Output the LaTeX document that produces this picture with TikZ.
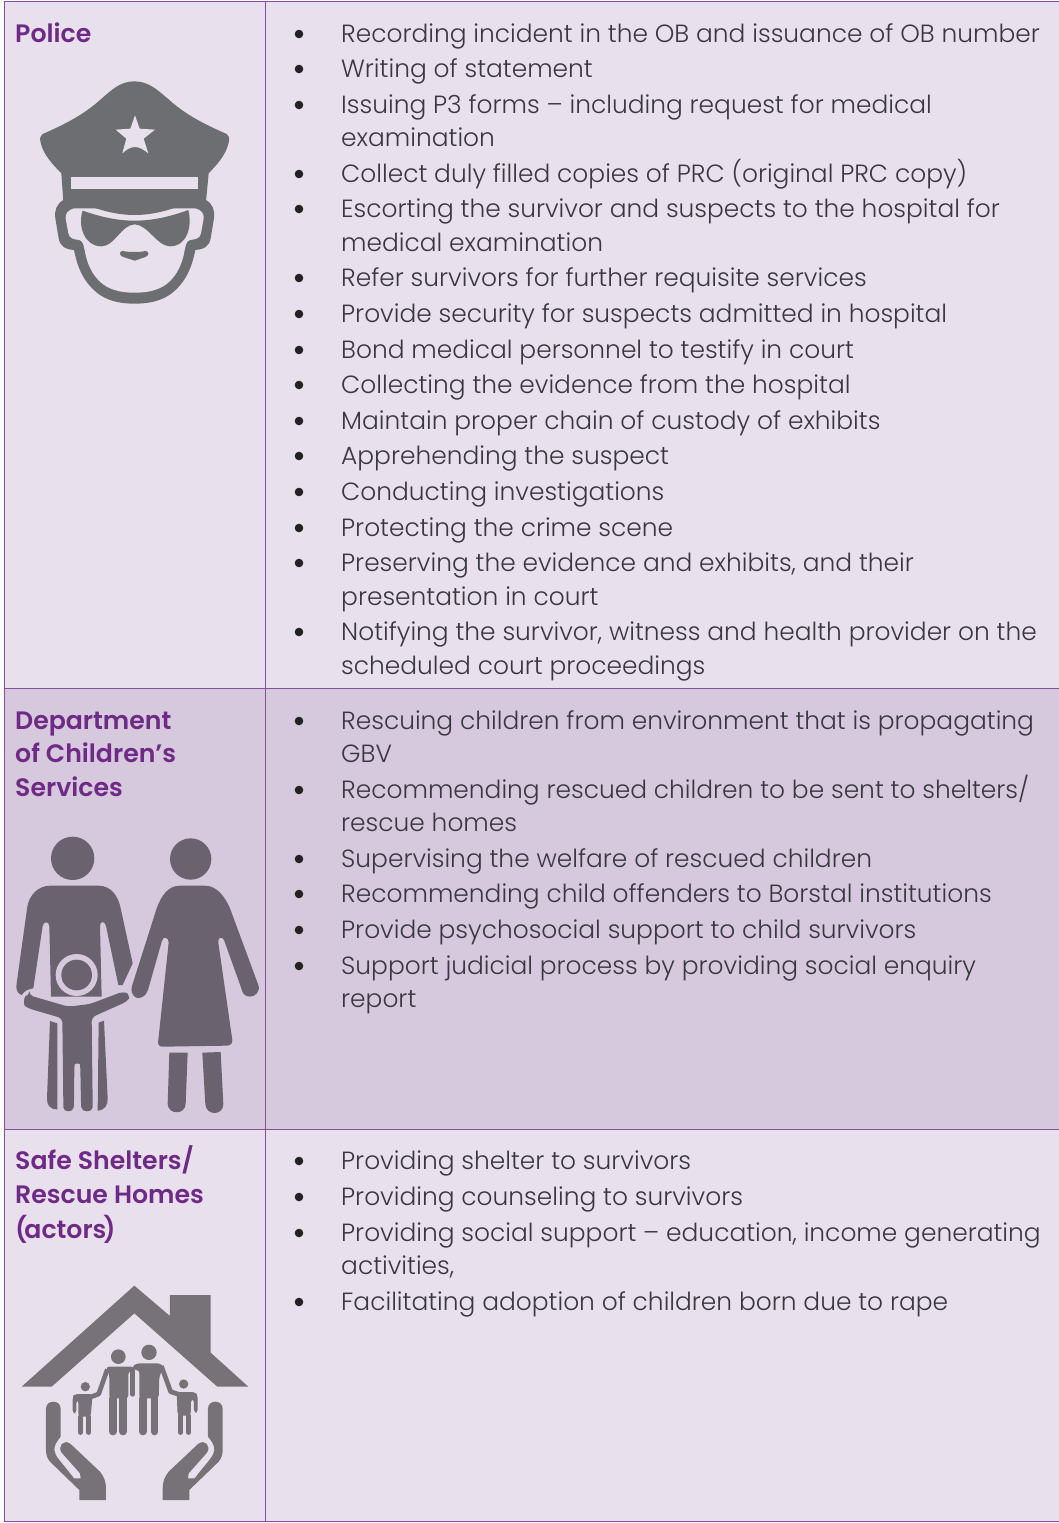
\documentclass[tikz,border=0pt]{standalone}
\usepackage{fontspec}
\setmainfont{Poppins Light}
\newfontfamily\ttlfont{Poppins SemiBold}
\definecolor{lightc}{HTML}{E8E1ED}
\definecolor{darkc}{HTML}{D6C9DE}
\definecolor{borderc}{HTML}{8A4C9E}
\definecolor{titlec}{HTML}{6F2A86}
\definecolor{textc}{HTML}{3A3740}
\definecolor{bulc}{HTML}{222222}
\definecolor{copc}{HTML}{6D6E71}
\definecolor{famc}{HTML}{6A626E}
\definecolor{homec}{HTML}{767277}
\tikzset{
 body/.style={anchor=base west,inner sep=0pt,text=textc,font=\fontsize{24.9}{30}\selectfont},
 ttl/.style={anchor=base west,inner sep=0pt,text=titlec,font=\ttlfont\fontsize{25.2}{30}\selectfont},
 rule/.style={draw=borderc,line width=1pt},
 icon/.style={x=0.33333pt,y=-0.33333pt},
}
\newcommand\bul[2]{\fill[bulc] (299,#1+1) circle (4.3); \node[body] (b#1) at (341,#1+9) {#2};}
\newcommand\cont[2]{\node[body] (b#1) at (341,#1+9) {#2};}
\newcommand\ttlline[2]{\node[ttl] (h#1) at (15,#1+9) {#2};}
\begin{document}
\begin{tikzpicture}[x=1pt,y=-1pt]
\useasboundingbox (0,0) rectangle (1059,1523);
\fill[white] (0,0) rectangle (1059,1523);
\fill[lightc] (4.5,1.5) rectangle (1059,688.5);
\fill[darkc] (4.5,688.5) rectangle (1059,1129.5);
\fill[lightc] (4.5,1129.5) rectangle (1059,1521.5);
\draw[rule] (1059,1.5) -- (4.5,1.5) -- (4.5,1521.5) -- (1059,1521.5);
\draw[rule] (265,1.5) -- (265,1521.5);
\draw[rule] (4.5,688.5) -- (1059,688.5);
\draw[rule] (4.5,1129.5) -- (1059,1129.5);

% titles
\ttlline{33}{Police}
\ttlline{720}{Department}
\ttlline{753}{of Children’s}
\ttlline{787}{Services}
\ttlline{1160}{Safe Shelters/}
\ttlline{1194}{Rescue Homes}
\ttlline{1229}{(\kern-3pt actors\kern-3pt)}

% police
\bul{33}{Recording incident in the OB and issuance of OB number}
\bul{68}{Writing of statement}
\bul{104}{Issuing P3 forms – including request for medical}
\cont{137}{examination}
\bul{173}{Collect duly filled copies of PRC (original PRC copy)}
\bul{208}{Escorting the survivor and suspects to the hospital for}
\cont{242}{medical examination}
\bul{277}{Refer survivors for further requisite services}
\bul{313}{Provide security for suspects admitted in hospital}
\bul{349}{Bond medical personnel to testify in court}
\bul{384}{Collecting the evidence from the hospital}
\bul{420}{Maintain proper chain of custody of exhibits}
\bul{455}{Apprehending the suspect}
\bul{491}{Conducting investigations}
\bul{527}{Protecting the crime scene}
\bul{562}{Preserving the evidence and exhibits, and their}
\cont{596}{presentation in court}
\bul{631}{Notifying the survivor, witness and health provider on the}
\cont{665}{scheduled court proceedings}
% children
\bul{720}{Rescuing children from environment that is propagating}
\cont{753}{GBV}
\bul{789}{Recommending rescued children to be sent to shelters/}
\cont{822}{rescue homes}
\bul{858}{Supervising the welfare of rescued children}
\bul{893}{Recommending child offenders to Borstal institutions}
\bul{929}{Provide psychosocial support to child survivors}
\bul{965}{Support judicial process by providing social enquiry}
\cont{998}{report}
% shelters
\bul{1160}{Providing shelter to survivors}
\bul{1196}{Providing counseling to survivors}
\bul{1232}{Providing social support – education, income generating}
\cont{1265}{activities,}
\bul{1301}{Facilitating adoption of children born due to rape}

% ---------- police icon
\begin{scope}[icon]
 % head outline
 \fill[copc] (190,600) .. controls (170,612) and (163,630) .. (166,655)
   -- (176,715) .. controls (180,738) and (195,748) .. (222,750)
   .. controls (232,800) and (250,850) .. (300,885)
   .. controls (335,908) and (375,911) .. (404,911)
   .. controls (433,911) and (473,908) .. (508,885)
   .. controls (558,850) and (576,800) .. (586,750)
   .. controls (613,748) and (628,738) .. (632,715)
   -- (642,655) .. controls (645,630) and (638,612) .. (618,600) -- cycle;
 \fill[lightc] (222,625) .. controls (205,630) and (195,640) .. (197,655)
   -- (205,700) .. controls (208,716) and (222,718) .. (238,720)
   .. controls (250,724) and (250,735) .. (254,750)
   .. controls (262,800) and (285,840) .. (320,860)
   .. controls (350,876) and (380,878) .. (404,878)
   .. controls (428,878) and (458,876) .. (488,860)
   .. controls (523,840) and (546,800) .. (554,750)
   .. controls (558,735) and (558,724) .. (570,720)
   .. controls (586,718) and (600,716) .. (603,700)
   -- (611,655) .. controls (613,640) and (603,630) .. (586,625) -- cycle;
 % hat
 \fill[copc] (403,244)
   .. controls (360,244) and (335,270) .. (300,300)
   .. controls (250,345) and (190,375) .. (128,402)
   .. controls (120,406) and (119,415) .. (122,428)
   .. controls (130,465) and (160,495) .. (184,520)
   -- (190,605) -- (225,600)
   .. controls (280,625) and (340,645) .. (404,645)
   .. controls (468,645) and (528,625) .. (582,600)
   -- (618,605) -- (626,520)
   .. controls (650,495) and (678,465) .. (686,428)
   .. controls (689,415) and (688,406) .. (680,402)
   .. controls (618,375) and (558,345) .. (508,300)
   .. controls (473,270) and (446,244) .. (403,244) -- cycle;
 \fill[lightc] (214,530) rectangle (594,566);
 \fill[lightc] (405,346) -- (419,386) -- (465,389) -- (431,416) -- (445,460)
   .. controls (430,448) and (418,441) .. (405,441)
   .. controls (392,441) and (380,448) .. (367,460)
   -- (379,416) -- (347,389) -- (391,386) -- cycle;
 % glasses
 \fill[copc] (248,632) .. controls (300,650) and (350,662) .. (404,662)
   .. controls (458,662) and (510,650) .. (565,630)
   .. controls (578,680) and (560,740) .. (510,739)
   .. controls (470,738) and (445,675) .. (404,673)
   .. controls (363,675) and (345,738) .. (305,739)
   .. controls (255,740) and (232,680) .. (248,632) -- cycle;
 % mouth
 \fill[copc] (368,753) .. controls (385,757) and (420,757) .. (436,753)
   .. controls (448,752) and (448,768) .. (436,771)
   -- (404,782) -- (370,771) .. controls (356,768) and (358,752) .. (368,753) -- cycle;
\end{scope}

% ---------- family icon
\begin{scope}[yshift=-820pt,icon]
 \fill[famc] (218,115) circle (65);
 \fill[famc] (572,117) circle (62);
 % man
 \fill[famc] (150,197) -- (295,197) .. controls (335,197) and (355,230) .. (362,265)
   -- (398,430) -- (368,495) -- (355,495) -- (318,318)
   .. controls (315,302) and (300,302) .. (300,318)
   -- (305,530) -- (153,530) -- (148,318)
   .. controls (147,302) and (130,304) .. (128,318)
   -- (100,505) .. controls (85,508) and (75,510) .. (65,525)
   .. controls (50,520) and (47,505) .. (50,490)
   -- (82,260) .. controls (88,225) and (115,197) .. (150,197) -- cycle;
 % man legs
 \fill[famc] (150,603) -- (172,610) -- (172,868)
   .. controls (150,868) and (140,855) .. (141,835) -- cycle;
 \fill[famc] (312,602) -- (296,608) -- (293,872)
   .. controls (315,870) and (324,855) .. (323,835) -- cycle;
 % child halo
 \fill[darkc] (230,465) circle (63);
 \draw[darkc,line width=6pt,line join=round] (90,545) -- (200,555) -- (270,555) -- (372,525);
 % child
 \fill[famc] (230,465) circle (46);
 \fill[famc,rounded corners=4pt] (88,526) -- (205,560) -- (270,552) -- (368,515)
   .. controls (385,520) and (388,535) .. (380,545)
   -- (275,592) -- (278,850) .. controls (278,878) and (245,878) .. (243,850)
   -- (241,745) .. controls (240,730) and (224,730) .. (223,745)
   -- (222,850) .. controls (220,878) and (190,878) .. (190,850)
   -- (187,595) -- (85,565) .. controls (70,555) and (72,530) .. (88,526) -- cycle;
 % woman
 \fill[famc] (540,197) -- (615,197) .. controls (650,197) and (675,230) .. (690,265)
   -- (775,495) .. controls (782,515) and (765,530) .. (750,530)
   .. controls (735,530) and (727,520) .. (724,505)
   -- (672,360) .. controls (665,347) and (653,352) .. (655,368)
   -- (697,660) .. controls (698,672) and (690,676) .. (680,677)
   -- (488,680) .. controls (476,680) and (472,672) .. (475,660)
   -- (506,368) .. controls (506,350) and (490,348) .. (486,362)
   -- (444,510) .. controls (438,530) and (420,537) .. (408,533)
   .. controls (395,525) and (392,510) .. (396,498)
   -- (470,265) .. controls (485,225) and (505,197) .. (540,197) -- cycle;
 \fill[famc] (508,698) -- (563,698) -- (557,852)
   .. controls (555,885) and (505,885) .. (503,852) -- cycle;
 \fill[famc] (607,698) -- (662,696) -- (670,852)
   .. controls (670,888) and (618,888) .. (616,852) -- cycle;
\end{scope}

% ---------- home icon
\begin{scope}[yshift=-1270pt,icon]
 \fill[homec] (65,350) -- (403,47) -- (510,138) -- (510,75) -- (632,75) -- (632,248)
   -- (745,350) -- (652,350) -- (403,130) -- (155,350) -- cycle;
 \fill[homec] (355,260) circle (22);
 \fill[homec] (447,247) circle (23);
 \fill[homec] (256,350) circle (14);
 \fill[homec] (551,342) circle (14);
 % left adult
 \fill[homec,rounded corners=3pt] (318,290) -- (402,290) -- (402,304) -- (385,304) -- (385,385) -- (328,385) -- (328,315) -- cycle;
 \draw[homec,line width=7.3pt,line cap=round] (339,385) -- (339,485) (369,385) -- (369,485);
 \draw[homec,line width=4.7pt,line cap=round] (398,300) -- (398,373);
 \draw[homec,line width=4.7pt,line join=round] (322,298) -- (296,372) -- (272,381);
 % right adult
 \fill[homec,rounded corners=3pt] (396,290) -- (410,280) -- (482,280) -- (490,292) -- (478,320) -- (476,385) -- (418,385) -- (418,300) -- (400,300) -- cycle;
 \draw[homec,line width=7.3pt,line cap=round] (429,385) -- (429,485) (464,385) -- (464,485);
 \draw[homec,line width=4.7pt,line join=round] (484,288) -- (512,365) -- (536,373);
 % left child
 \fill[homec,rounded corners=3pt] (218,380) -- (225,372) -- (278,372) -- (272,440) -- (235,440) -- (235,390) -- (229,390) -- (229,430) -- (218,430) -- cycle;
 \draw[homec,line width=4.4pt,line cap=round] (241,440) -- (241,488) (266,440) -- (266,488);
 % right child
 \fill[homec,rounded corners=3pt] (530,366) -- (585,366) -- (593,376) -- (593,428) -- (582,428) -- (582,388) -- (573,388) -- (572,437) -- (533,437) -- cycle;
 \draw[homec,line width=4.4pt,line cap=round] (541,437) -- (541,488) (566,437) -- (566,488);
 % hands
 \foreach \m/\o in {1/0,-1/806}{
 \begin{scope}[xshift=\o*0.33333pt,xscale=\m]
  \fill[homec] (138,416) .. controls (138,388) and (182,388) .. (182,416)
    -- (182,500) .. controls (170,515) and (163,525) .. (163,540)
    .. controls (165,560) and (180,570) .. (222,625) -- (242,625) -- (240,610)
    -- (185,548) .. controls (172,530) and (190,505) .. (212,522)
    -- (300,605) .. controls (312,620) and (318,635) .. (318,655)
    -- (318,690) -- (238,690) -- (238,660) -- (150,575)
    .. controls (142,565) and (138,555) .. (138,540) -- cycle;
 \end{scope}}
\end{scope}
\end{tikzpicture}
\end{document}
